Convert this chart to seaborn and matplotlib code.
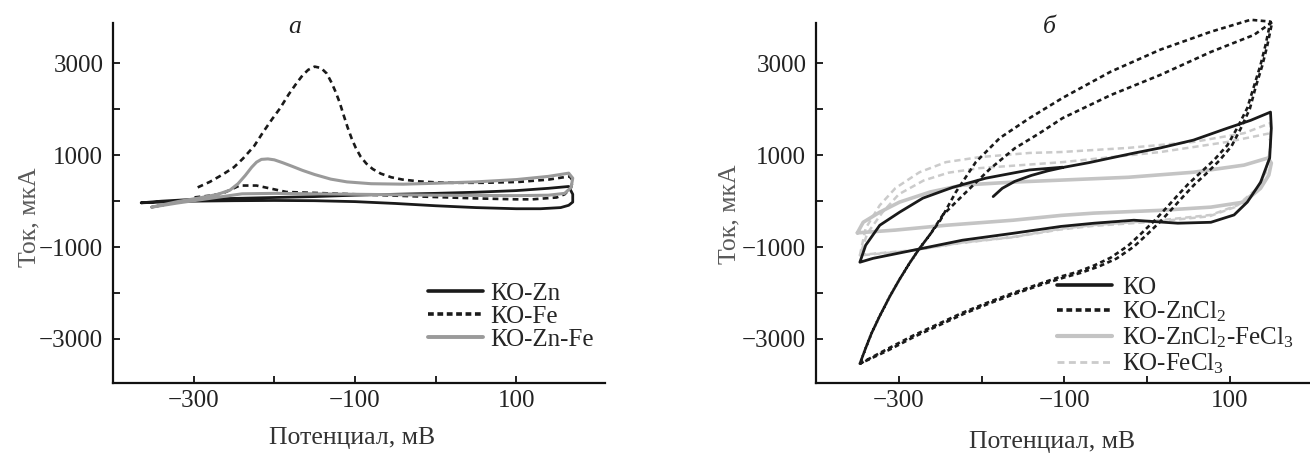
import numpy as np
import pandas as pd
import matplotlib
matplotlib.use("Agg")
import matplotlib.pyplot as plt
from matplotlib.lines import Line2D
import seaborn as sns

# ---------------- data: panel "а" ----------------
KO_ZN_MV = [-365, -340, -300, -250, -200, -150, -100, -50, 0, 50, 100, 140, 165, 170, 170, 165,
            155, 130, 100, 50, 0, -50, -100, -150, -200, -250, -300, -340, -365]
KO_ZN_UA = [-36, 0, 40, 60, 80, 100, 130, 150, 170, 195, 230, 280, 320, 150, -20, -90,
            -140, -165, -165, -140, -100, -50, -10, 10, 15, 10, 0, -20, -36]

KO_FE_MV = [-295, -280, -264, -250, -239, -225, -214, -203, -193, -182, -172, -165, -158, -150, -142,
            -135, -129, -124, -119, -114, -109, -104, -99, -93, -86, -78, -68, -55, -41, -20, 0, 21,
            60, 104, 140, 166,
            170, 168, 160, 150, 120, 100, 50, 0, -50, -100, -150, -185, -206, -222, -243, -264, -280, -300]
KO_FE_UA = [300, 420, 580, 740, 925, 1200, 1500, 1780, 2020, 2330, 2580, 2740, 2860, 2930, 2900,
            2780, 2580, 2380, 2150, 1870, 1600, 1360, 1160, 970, 820, 700, 600, 520, 470, 430, 410, 400,
            400, 420, 470, 540,
            450, 300, 150, 80, 40, 40, 60, 90, 120, 150, 180, 200, 280, 340, 340, 170, 120, 80]

KO_ZNFE_MV = [-352, -320, -290, -270, -255, -245, -236, -228, -222, -216, -208, -200, -190, -178,
              -165, -150, -130, -110, -80, -40, 0, 50, 100, 140, 165, 170, 168, 160, 140, 100, 50,
              0, -50, -100, -150, -200, -240, -280, -320, -352]
KO_ZNFE_UA = [-130, -10, 80, 150, 240, 380, 560, 740, 850, 910, 920, 900, 840, 760,
              670, 580, 480, 420, 380, 370, 390, 420, 470, 540, 610, 500, 300, 170, 130, 120, 125,
              130, 140, 150, 160, 170, 160, 60, -40, -130]

# ---------------- data: panel "б" ----------------
KO_MV = [-186, -175, -160, -140, -120, -100, -70, -44, -15, 16, 56, 97, 125, 149,
         150, 148, 137, 121, 105, 77, 37, -16, -64, -104, -162, -223, -283, -331, -347,
         -340, -323, -299, -271, -235, -195, -142, -102]
KO_UA = [100, 280, 430, 560, 660, 740, 840, 940, 1050, 1160, 1330, 1590, 1760, 1940,
         1590, 940, 410, -20, -300, -460, -480, -415, -480, -550, -700, -850, -1070, -1245, -1330,
         -960, -525, -240, 65, 300, 500, 680, 740]

ZNCL2_MV = [-347, -340, -333, -323, -311, -299, -287, -275, -262, -250, -231, -207, -178, -142,
            -102, -44, 16, 77, 125, 149,
            143, 137, 129, 121, 109, 97, 81, 65, 50, 37, 22, 8, -8, -23, -44, -64, -84, -104,
            -130, -162, -193, -223, -253, -283, -315, -347,
            -340, -333, -323, -311, -299, -287, -275, -262, -247, -214, -190, -160, -130, -102,
            -44, 16, 77, 129, 151,
            145, 139, 131, 124, 113, 102, 87, 72, 57, 44, 29, 15, -1, -16, -37, -58, -80, -100,
            -128, -160, -191, -221, -251, -281, -313, -347]
ZNCL2_UA = [-3540, -3200, -2880, -2500, -2080, -1700, -1350, -1030, -720, -420, 200, 850, 1375, 1810,
            2250, 2820, 3300, 3690, 3950, 3910,
            3400, 2970, 2500, 2030, 1600, 1220, 900, 630, 380, 130, -170, -440, -720, -970, -1230, -1400, -1540, -1640,
            -1800, -2000, -2210, -2430, -2680, -2930, -3230, -3540,
            -3200, -2880, -2500, -2080, -1700, -1350, -1030, -720, -305, 280, 700, 1150, 1480, 1810,
            2310, 2750, 3250, 3620, 3900,
            3380, 2950, 2480, 2010, 1580, 1200, 880, 610, 360, 110, -190, -460, -740, -990, -1250, -1420, -1560, -1660,
            -1820, -2020, -2230, -2450, -2700, -2950, -3250, -3540]

ZNFE_MV = [-350, -343, -323, -299, -262, -223, -162, -102, -23, 56, 117, 146, 150, 147, 137, 117,
           77, 16, -64, -104, -162, -243, -304, -350]
ZNFE_UA = [-690, -460, -240, -20, 200, 350, 415, 460, 520, 630, 785, 940, 830, 570, 280, -20,
           -130, -200, -260, -310, -415, -525, -630, -690]

FECL3_MV = [-347, -340, -323, -304, -275, -243, -202, -142, -104, -23, 56, 117, 149,
            149, 143, 133, 109, 77, 16, -64, -104, -162, -223, -283, -340, -347,
            -338, -320, -300, -270, -240, -202, -102, 16, 97, 146, 149,
            147, 141, 130, 106, 75, 14, -66, -106, -164, -225, -285, -340, -347]
FECL3_UA = [-1180, -590, -90, 285, 630, 850, 960, 1050, 1070, 1160, 1290, 1480, 1700,
            1160, 630, 280, -90, -300, -415, -520, -600, -780, -900, -1070, -1160, -1180,
            -700, -250, 150, 450, 620, 720, 850, 1070, 1290, 1470, 1300,
            900, 500, 200, -130, -330, -440, -540, -620, -790, -910, -1080, -1170, -1180]

X_TICKS = [-300, -200, -100, 0, 100]
X_TICK_LABELS = ["\u2212300", "", "\u2212100", "", "100"]
Y_TICKS = [-3000, -2000, -1000, 0, 1000, 2000, 3000]
Y_TICK_LABELS = ["\u22123000", "", "\u22121000", "", "1000", "", "3000"]

LEG_A = ["КО-Zn", "КО-Fe", "КО-Zn-Fe"]
LEG_B = ["КО", "КО-ZnCl$_2$", "КО-ZnCl$_2$-FeCl$_3$", "КО-FeCl$_3$"]

# ---------------- style ----------------
sns.set_style("ticks")
plt.rcParams["font.family"] = ["Liberation Serif", "DejaVu Serif"]
plt.rcParams["mathtext.fontset"] = "custom"
plt.rcParams["mathtext.rm"] = "Liberation Serif"
plt.rcParams["mathtext.it"] = "Liberation Serif:italic"
plt.rcParams["axes.unicode_minus"] = True

fig = plt.figure(figsize=(13.1, 4.58), dpi=100)
axA = fig.add_axes([113 / 1310, 75 / 458, 492 / 1310, 360 / 458])
axB = fig.add_axes([816 / 1310, 75 / 458, 505 / 1310, 360 / 458])

BLACK = "#1a1a1a"
GRAY = "#9a9a9a"
LGRAY = "#c4c4c4"
LGRAY2 = "#cbcbcb"

def draw(ax, mv, ua, **kw):
    df = pd.DataFrame({"mv": mv, "ua": ua})
    sns.lineplot(data=df, x="mv", y="ua", sort=False, estimator=None, ax=ax,
                 clip_on=False, **kw)

# panel а
draw(axA, KO_ZN_MV, KO_ZN_UA, color=BLACK, lw=2.0)
draw(axA, KO_FE_MV, KO_FE_UA, color=BLACK, lw=1.9, linestyle=(0, (2.2, 1.6)))
draw(axA, KO_ZNFE_MV, KO_ZNFE_UA, color=GRAY, lw=2.2)

# panel б
draw(axB, FECL3_MV, FECL3_UA, color=LGRAY2, lw=1.8, linestyle=(0, (2.5, 1.6)))
draw(axB, ZNFE_MV, ZNFE_UA, color=LGRAY, lw=2.6)
draw(axB, KO_MV, KO_UA, color=BLACK, lw=2.0)
draw(axB, ZNCL2_MV, ZNCL2_UA, color=BLACK, lw=1.9, linestyle=(0, (1.8, 1.3)))

for ax, title, tx in [(axA, "а", 0.37), (axB, "б", 0.463)]:
    ax.set_xlim(-400, 210)
    ax.set_ylim(-3960, 3880)
    ax.set_xticks(X_TICKS)
    ax.set_xticklabels(X_TICK_LABELS)
    ax.set_yticks(Y_TICKS)
    ax.set_yticklabels(Y_TICK_LABELS)
    ax.tick_params(direction="in", length=5, width=1.4, labelsize=18, colors="#222222")
    ax.tick_params(axis="x", pad=5)
    ax.tick_params(axis="y", pad=7)
    for s in ["top", "right"]:
        ax.spines[s].set_visible(False)
    for s in ["left", "bottom"]:
        ax.spines[s].set_linewidth(1.6)
        ax.spines[s].set_color("#111111")
    ax.set_xlabel("Потенциал, мВ", fontsize=18.5, color="#333333")
    ax.set_ylabel("Ток, мкА", fontsize=18.5, color="#5a5a5a")
    ax.text(tx, 0.99, title, transform=ax.transAxes, fontsize=18.5, style="italic",
            ha="center", va="center", color="#222222")

axA.xaxis.set_label_coords(0.486, -0.122)
axA.yaxis.set_label_coords(-0.148, 0.46)
axB.xaxis.set_label_coords(0.467, -0.134)
axB.yaxis.set_label_coords(-0.150, 0.47)

hA = [Line2D([], [], color=BLACK, lw=2.6),
      Line2D([], [], color=BLACK, lw=2.6, linestyle=(0, (1.6, 1.0))),
      Line2D([], [], color=GRAY, lw=2.8)]
axA.legend(hA, LEG_A, loc="upper left", bbox_to_anchor=(0.64, 0.28), frameon=False,
           fontsize=18, handlelength=2.2, handletextpad=0.3, labelspacing=0.02,
           borderpad=0, borderaxespad=0)

hB = [Line2D([], [], color=BLACK, lw=2.6),
      Line2D([], [], color=BLACK, lw=2.6, linestyle=(0, (1.6, 1.0))),
      Line2D([], [], color=LGRAY, lw=3.0),
      Line2D([], [], color=LGRAY2, lw=2.0, linestyle=(0, (2.5, 1.6)))]
axB.legend(hB, LEG_B, loc="upper left", bbox_to_anchor=(0.478, 0.297), frameon=False,
           fontsize=18, handlelength=2.2, handletextpad=0.4, labelspacing=0.05,
           borderpad=0, borderaxespad=0)

fig.savefig("out.png", dpi=100)
